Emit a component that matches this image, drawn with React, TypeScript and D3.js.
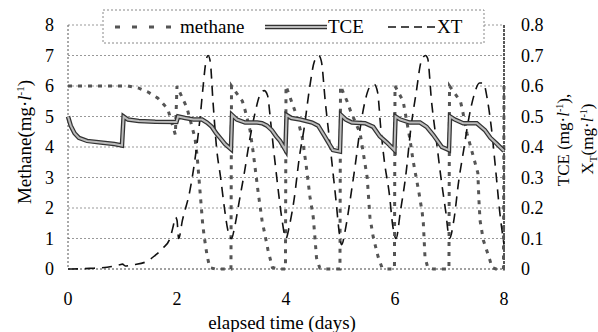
import React from "react";
import * as d3 from "d3";

// methane (mg/l), left axis
const methaneDays = [0, 1.1, 1.3, 1.47, 1.65, 1.83, 1.97, 2.0,
  2.1, 2.18, 2.33, 2.37, 2.42, 2.47, 2.5, 2.55, 2.6, 2.7, 2.99, 3.0,
  3.2, 3.25, 3.34, 3.4, 3.49, 3.56, 3.67, 3.75, 3.85, 3.99, 4.0,
  4.1, 4.2, 4.3, 4.37, 4.44, 4.5, 4.53, 4.56, 4.62, 4.7, 4.99, 5.0,
  5.12, 5.18, 5.36, 5.49, 5.54, 5.6, 5.69, 5.76, 5.85, 5.99, 6.0,
  6.15, 6.27, 6.33, 6.44, 6.5, 6.52, 6.55, 6.6, 6.7, 6.99, 7.0,
  7.2, 7.23, 7.32, 7.52, 7.54, 7.56, 7.62, 7.74, 7.78, 7.85, 7.99, 8.0];
const methaneVals = [6.0, 6.0, 5.93, 5.8, 5.6, 5.25, 4.4, 6.0,
  5.6, 5.3, 4.3, 3.7, 2.6, 1.5, 1.05, 0.46, 0.05, 0, 0, 6.0,
  5.5, 5.2, 4.55, 3.8, 2.5, 1.6, 0.62, 0.05, 0, 0, 6.0,
  5.5, 5.0, 4.3, 3.4, 2.36, 1.7, 1.05, 0.36, 0.03, 0, 0, 6.0,
  5.5, 5.2, 4.45, 3.0, 1.7, 1.05, 0.4, 0.05, 0, 0, 6.0,
  5.5, 4.3, 3.57, 2.5, 1.84, 1.5, 0.4, 0.05, 0, 0, 6.0,
  5.5, 5.28, 4.45, 3.15, 2.26, 1.6, 0.95, 0.3, 0.05, 0, 0, 6.0];

// TCE (mg/l), right axis
const tceDays = [0, 0.05, 0.12, 0.2, 0.35, 0.6, 0.85, 0.99, 1.02, 1.1, 1.3, 1.6, 1.99,
  2.02, 2.15, 2.3, 2.46, 2.55, 2.64, 2.72, 2.79, 2.88, 2.99,
  3.01, 3.1, 3.25, 3.47, 3.56, 3.65, 3.74, 3.82, 3.89, 3.99,
  4.01, 4.1, 4.26, 4.48, 4.59, 4.71, 4.86, 4.99,
  5.01, 5.1, 5.21, 5.45, 5.6, 5.72, 5.85, 5.99,
  6.01, 6.1, 6.27, 6.46, 6.58, 6.7, 6.86, 6.99,
  7.01, 7.1, 7.25, 7.5, 7.65, 7.75, 7.87, 8.0];
const tceVals = [0.5, 0.47, 0.445, 0.43, 0.42, 0.415, 0.41, 0.405, 0.5, 0.49, 0.485, 0.483, 0.482,
  0.5, 0.495, 0.49, 0.49, 0.48, 0.466, 0.445, 0.43, 0.41, 0.393,
  0.505, 0.49, 0.48, 0.48, 0.478, 0.47, 0.455, 0.435, 0.42, 0.39,
  0.505, 0.495, 0.49, 0.48, 0.47, 0.435, 0.39, 0.385,
  0.505, 0.49, 0.48, 0.478, 0.466, 0.435, 0.415, 0.39,
  0.5, 0.49, 0.48, 0.48, 0.466, 0.44, 0.4, 0.39,
  0.5, 0.49, 0.478, 0.478, 0.455, 0.43, 0.41, 0.387];

// XT (mg/l), right axis
const xtDays = [0, 0.4, 0.8, 0.95, 1.0, 1.05, 1.2, 1.45, 1.6, 1.75, 1.87, 1.93, 1.97, 2.0, 2.03,
  2.1, 2.24, 2.33, 2.42, 2.48, 2.53, 2.57, 2.61, 2.66, 2.73, 2.8, 2.87, 2.93, 3.0,
  3.06, 3.14, 3.24, 3.33, 3.43, 3.52, 3.6, 3.66, 3.72, 3.78, 3.85, 3.92, 4.0,
  4.06, 4.15, 4.24, 4.34, 4.43, 4.52, 4.6, 4.65, 4.72, 4.8, 4.86, 4.92, 4.97, 5.02,
  5.1, 5.18, 5.27, 5.36, 5.45, 5.55, 5.62, 5.68, 5.74, 5.8, 5.9, 5.96, 6.02,
  6.1, 6.2, 6.29, 6.39, 6.48, 6.56, 6.6, 6.67, 6.76, 6.85, 6.93, 7.0,
  7.08, 7.17, 7.26, 7.35, 7.45, 7.55, 7.62, 7.7, 7.77, 7.85, 7.92, 8.0];
const xtVals = [0, 0.002, 0.008, 0.014, 0.016, 0.01, 0.014, 0.025, 0.045, 0.07, 0.1, 0.14, 0.17, 0.16, 0.1,
  0.16, 0.26, 0.36, 0.49, 0.6, 0.68, 0.7, 0.68, 0.55, 0.39, 0.3, 0.2, 0.13, 0.1,
  0.14, 0.22, 0.32, 0.42, 0.51, 0.57, 0.585, 0.57, 0.48, 0.38, 0.27, 0.17, 0.1,
  0.14, 0.23, 0.36, 0.47, 0.59, 0.68, 0.7, 0.68, 0.55, 0.42, 0.32, 0.22, 0.13, 0.08,
  0.14, 0.23, 0.34, 0.46, 0.55, 0.6, 0.605, 0.58, 0.46, 0.36, 0.24, 0.14, 0.1,
  0.19, 0.31, 0.46, 0.58, 0.68, 0.7, 0.69, 0.55, 0.42, 0.29, 0.19, 0.1,
  0.16, 0.29, 0.39, 0.49, 0.57, 0.61, 0.61, 0.55, 0.46, 0.32, 0.19, 0.08];

const xTicks = [0, 2, 4, 6, 8];
const leftTicks = [0, 1, 2, 3, 4, 5, 6, 7, 8];
const rightTicks = ["0", "0.1", "0.2", "0.3", "0.4", "0.5", "0.6", "0.7", "0.8"];

const W = 598, H = 332;
const m = { left: 68, right: 504, top: 25, bottom: 269 };
const FONT = "Liberation Serif, Times New Roman, DejaVu Serif, serif";
const ts = { fontFamily: FONT };

export default function App() {
  const x = d3.scaleLinear().domain([0, 8]).range([m.left, m.right]);
  const yL = d3.scaleLinear().domain([0, 8]).range([m.bottom, m.top]);
  const yR = d3.scaleLinear().domain([0, 0.8]).range([m.bottom, m.top]);

  const lineL = d3.line<[number, number]>().x(d => x(d[0])).y(d => yL(d[1]));
  const lineR = d3.line<[number, number]>().x(d => x(d[0])).y(d => yR(d[1]));
  const lineXT = d3.line<[number, number]>().x(d => x(d[0])).y(d => yR(d[1])).curve(d3.curveMonotoneX);

  const methane = lineL(methaneDays.map((d, i) => [d, methaneVals[i]] as [number, number])) || "";
  const tce = lineR(tceDays.map((d, i) => [d, tceVals[i]] as [number, number])) || "";
  const xt = lineXT(xtDays.map((d, i) => [d, xtVals[i]] as [number, number])) || "";

  return (
    <svg width={W} height={H} style={{ position: "absolute", left: 0, top: 0, background: "#fff" }}>
      {/* grid */}
      {leftTicks.map(t => (
        <line key={t} x1={m.left} x2={m.right} y1={yL(t)} y2={yL(t)}
          stroke={t === 0 ? "#444" : "#999"} strokeWidth={1} strokeDasharray="2,2" />
      ))}
      <line x1={m.left} x2={m.left} y1={m.top} y2={m.bottom} stroke="#555" strokeDasharray="2,2" />
      <line x1={m.right} x2={m.right} y1={m.top} y2={m.bottom} stroke="#222" strokeWidth={1.5} strokeDasharray="3,1" />

      {/* series */}
      <path d={methane} fill="none" stroke="#555" strokeWidth={3} strokeDasharray="4,6" />
      <path d={xt} fill="none" stroke="#111" strokeWidth={1.6} strokeDasharray="10,7" />
      <path d={tce} fill="none" stroke="#333" strokeWidth={4.5} />
      <path d={tce} fill="none" stroke="#bbb" strokeWidth={2} />

      {/* legend */}
      <rect x={103} y={10} width={381} height={33} fill="#fff" stroke="#888" strokeDasharray="2,2" />
      <line x1={115} x2={178} y1={27} y2={27} stroke="#555" strokeWidth={3} strokeDasharray="5,12" />
      <text x={180} y={33} fontSize={19} style={ts}>methane</text>
      <line x1={265} x2={327} y1={27} y2={27} stroke="#333" strokeWidth={4.5} />
      <line x1={265} x2={327} y1={27} y2={27} stroke="#bbb" strokeWidth={2} />
      <text x={328} y={33} fontSize={19} style={ts}>TCE</text>
      <line x1={388} x2={436} y1={27} y2={27} stroke="#111" strokeWidth={1.6} strokeDasharray="8,5" />
      <text x={437} y={33} fontSize={19} style={ts}>XT</text>

      {/* axes labels */}
      {xTicks.map(t => (
        <text key={t} x={x(t)} y={305} fontSize={18} textAnchor="middle" style={ts}>{t}</text>
      ))}
      {leftTicks.map(t => (
        <text key={t} x={54} y={yL(t) + 6} fontSize={18} textAnchor="end" style={ts}>{t}</text>
      ))}
      {rightTicks.map((t, i) => (
        <text key={t} x={521} y={yL(i) + 6} fontSize={18} style={ts}>{t}</text>
      ))}

      <text x={282} y={329} fontSize={19} textAnchor="middle" style={ts}>elapsed time (days)</text>
      <text transform="translate(31,142) rotate(-90)" fontSize={19} textAnchor="middle" style={ts}>
        Methane(mg·<tspan fontStyle="italic">l</tspan><tspan fontSize={11} dy={-7}>-1</tspan><tspan dy={7}>)</tspan>
      </text>
      <text transform="translate(569,140) rotate(-90)" fontSize={17} textAnchor="middle" style={ts}>
        TCE (mg·<tspan fontStyle="italic">l</tspan><tspan fontSize={10} dy={-6}>-1</tspan><tspan dy={6}>),</tspan>
      </text>
      <text transform="translate(593,139) rotate(-90)" fontSize={17} textAnchor="middle" style={ts}>
        X<tspan fontSize={11} dy={4}>T</tspan><tspan dy={-4}>(mg·</tspan><tspan fontStyle="italic">l</tspan><tspan fontSize={10} dy={-6}>-1</tspan><tspan dy={6}>)</tspan>
      </text>
    </svg>
  );
}
